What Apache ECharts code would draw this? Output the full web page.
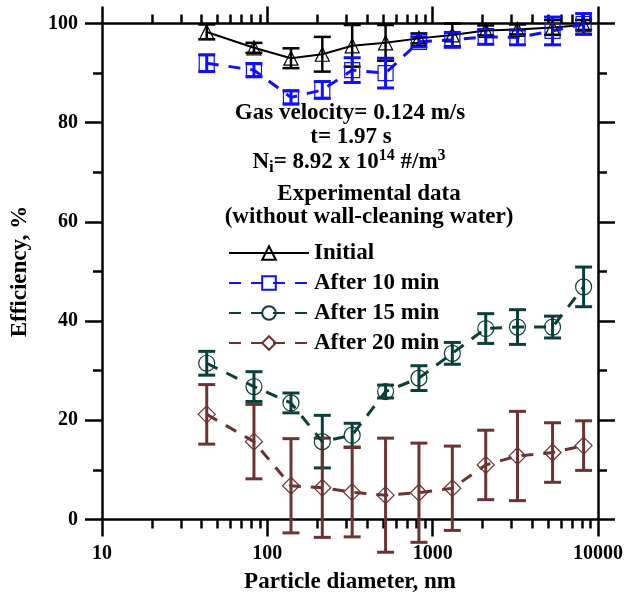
<!DOCTYPE html>
<html>
<head>
<meta charset="utf-8">
<title>Efficiency vs particle diameter</title>
<script src="https://cdn.jsdelivr.net/npm/echarts@6.0.0/dist/echarts.min.js"></script>
<style>
  html, body { margin: 0; padding: 0; background: #fff; }
  #main { width: 625px; height: 601px; }
</style>
</head>
<body>
<div id="main"></div>
<script>
// particle diameter, nm
var diameters = [43, 83, 139, 215, 326, 519, 826, 1315, 2094, 3258, 5310, 8183];

// efficiency, % and its +/- error
var initialEff = [98.3, 95.1, 93.0, 93.8, 95.5, 96.1, 97.0, 97.7, 98.6, 98.8, 99.2, 99.7];
var initialErr = [1.5, 1.0, 2.0, 3.5, 4.2, 3.6, 1.0, 2.3, 1.0, 1.0, 1.5, 1.0];
var after10Eff = [92.0, 90.6, 85.1, 86.6, 90.6, 90.0, 96.3, 96.7, 97.3, 97.2, 98.5, 99.9];
var after10Err = [1.7, 1.3, 1.3, 1.7, 2.5, 3.0, 1.0, 1.5, 1.5, 1.5, 2.8, 2.1];
var after15Eff = [31.5, 26.8, 23.5, 15.7, 17.0, 25.8, 28.5, 33.5, 38.5, 38.8, 38.8, 46.9];
var after15Err = [2.4, 3.0, 2.0, 5.3, 2.4, 1.3, 2.5, 2.2, 3.0, 3.5, 2.2, 4.0];
var after20Eff = [21.2, 15.7, 6.8, 6.4, 5.5, 4.9, 5.4, 6.3, 11.0, 12.8, 13.5, 14.9];
var after20Err = [6.0, 7.5, 9.5, 10.0, 9.0, 11.5, 10.0, 8.5, 7.0, 9.0, 6.0, 5.0];

// ticks
var xMajorTicks = [10, 100, 1000, 10000];
var xMinorTicks = [20, 30, 40, 50, 60, 70, 80, 90,
                   200, 300, 400, 500, 600, 700, 800, 900,
                   2000, 3000, 4000, 5000, 6000, 7000, 8000, 9000];

var seriesNames = ['Initial', 'After 10 min', 'After 15 min', 'After 20 min'];

var serif = '"Liberation Serif", "DejaVu Serif", serif';
var black = '#000';
var textFont = 'bold 23px ' + serif;

function pairs(vals) {
    return diameters.map(function (d, i) { return [d, vals[i]]; });
}
function triples(vals, errs) {
    return diameters.map(function (d, i) { return [d, vals[i], errs[i]]; });
}

// error bar drawn with the axes' own coordinates
function errorBar(color, width) {
    return function (params, api) {
        var x = api.value(0), y = api.value(1), e = api.value(2);
        var hi = api.coord([x, y + e]);
        var lo = api.coord([x, y - e]);
        var half = 8.5;
        var st = { stroke: color, lineWidth: width };
        return {
            type: 'group',
            children: [
                { type: 'line', shape: { x1: hi[0], y1: hi[1], x2: lo[0], y2: lo[1] }, style: st },
                { type: 'line', shape: { x1: hi[0] - half, y1: hi[1], x2: hi[0] + half, y2: hi[1] }, style: st },
                { type: 'line', shape: { x1: lo[0] - half, y1: lo[1], x2: lo[0] + half, y2: lo[1] }, style: st }
            ]
        };
    };
}

function lineSeries(name, vals, color, symbol, size, dashed) {
    return {
        name: name,
        type: 'line',
        data: pairs(vals),
        symbol: symbol,
        symbolSize: size,
        showAllSymbol: true,
        lineStyle: { color: color, width: dashed ? 3 : 2, type: dashed ? [12, 10] : 'solid' },
        itemStyle: { color: 'rgba(255,255,255,0)', borderColor: color, borderWidth: 1.2 },
        emphasis: { disabled: true }
    };
}

function barSeries(vals, errs, color, width) {
    return {
        type: 'custom',
        data: triples(vals, errs),
        encode: { x: 0, y: 1 },
        clip: false,
        renderItem: errorBar(color, width)
    };
}

var tickStyle = { color: black, width: 2.5 };
var axisLineStyle = { show: true, onZero: false, lineStyle: { color: black, width: 2.5 } };
var labelStyle = { color: black, fontFamily: serif, fontWeight: 'bold', fontSize: 20 };

function xMajor(pos, withLabels) {
    return {
        type: 'log', logBase: 10, min: 10, max: 10000, position: pos,
        axisLine: axisLineStyle,
        axisTick: { show: true, inside: false, length: 17, lineStyle: tickStyle, customValues: xMajorTicks },
        axisLabel: Object.assign({
            show: withLabels, margin: 24, customValues: xMajorTicks,
            formatter: function (v) { return String(Math.round(v)); }
        }, labelStyle),
        splitLine: { show: false },
        minorTick: { show: false },
        minorSplitLine: { show: false }
    };
}
function xMinor(pos) {
    return {
        type: 'log', logBase: 10, min: 10, max: 10000, position: pos,
        axisLine: { show: false, onZero: false },
        axisTick: { show: true, inside: false, length: 9, lineStyle: tickStyle, customValues: xMinorTicks },
        axisLabel: { show: false },
        splitLine: { show: false }
    };
}
function yAxisDef(pos, withLabels) {
    return {
        type: 'value', min: 0, max: 100, interval: 20, position: pos,
        axisLine: axisLineStyle,
        axisTick: { show: true, inside: false, length: 17, lineStyle: tickStyle },
        minorTick: { show: true, splitNumber: 2, length: 9, lineStyle: tickStyle },
        axisLabel: Object.assign({ show: withLabels, margin: 24 }, labelStyle),
        splitLine: { show: false },
        minorSplitLine: { show: false }
    };
}

var xBottom = xMajor('bottom', true);
xBottom.name = 'Particle diameter, nm';
xBottom.nameLocation = 'middle';
xBottom.nameGap = 51;
xBottom.nameTextStyle = Object.assign({}, labelStyle, { fontSize: 23 });

var yLeft = yAxisDef('left', true);
yLeft.name = 'Efficiency, %';
yLeft.nameLocation = 'middle';
yLeft.nameGap = 70;
yLeft.nameTextStyle = Object.assign({}, labelStyle, { fontSize: 23 });

var chart = echarts.init(document.getElementById('main'));

var option = {
    backgroundColor: '#fff',
    animation: false,
    grid: { left: 102, right: 27, top: 23.5, bottom: 81.5, containLabel: false, outerBoundsMode: 'none' },
    xAxis: [xBottom, xMinor('bottom'), xMajor('top', false), xMinor('top')],
    yAxis: [yLeft, yAxisDef('right', false)],
    legend: {
        data: seriesNames,
        orient: 'vertical',
        left: 228,
        top: 238,
        itemWidth: 80,
        itemHeight: 17,
        itemGap: 0,
        padding: 0,
        selectedMode: false,
        textStyle: { color: black, fontFamily: serif, fontWeight: 'bold', fontSize: 23, lineHeight: 30 }
    },
    graphic: [
        { type: 'text', x: 350, y: 113, style: { text: 'Gas velocity= 0.124 m/s', font: textFont, fill: black, align: 'center', verticalAlign: 'middle' } },
        { type: 'text', x: 351, y: 137, style: { text: 't= 1.97 s', font: textFont, fill: black, align: 'center', verticalAlign: 'middle' } },
        { type: 'text', x: 349, y: 162, style: {
            text: '{n|N}{sub|i}{n|= 8.92 x 10}{sup|14}{n| #/m}{sup|3}',
            align: 'center', verticalAlign: 'middle', fill: black,
            rich: {
                n: { fontFamily: serif, fontWeight: 'bold', fontSize: 23, lineHeight: 28, fill: black },
                sub: { fontFamily: serif, fontWeight: 'bold', fontSize: 17, lineHeight: 14, verticalAlign: 'bottom', fill: black },
                sup: { fontFamily: serif, fontWeight: 'bold', fontSize: 16, lineHeight: 16, verticalAlign: 'top', fill: black }
            }
        } },
        { type: 'text', x: 369, y: 194, style: { text: 'Experimental data', font: textFont, fill: black, align: 'center', verticalAlign: 'middle' } },
        { type: 'text', x: 369, y: 217, style: { text: '(without wall-cleaning water)', font: textFont, fill: black, align: 'center', verticalAlign: 'middle' } }
    ],
    series: [
        lineSeries('Initial', initialEff, '#000000', 'triangle', 14, false),
        barSeries(initialEff, initialErr, '#000000', 2.5),
        lineSeries('After 10 min', after10Eff, '#1010ff', 'rect', 15, true),
        barSeries(after10Eff, after10Err, '#1010ff', 3),
        lineSeries('After 15 min', after15Eff, '#0b3f39', 'circle', 16, true),
        barSeries(after15Eff, after15Err, '#0b3f39', 3),
        lineSeries('After 20 min', after20Eff, '#6b3333', 'diamond', 17, true),
        barSeries(after20Eff, after20Err, '#6b3333', 3)
    ]
};

chart.setOption(option);
</script>
</body>
</html>
